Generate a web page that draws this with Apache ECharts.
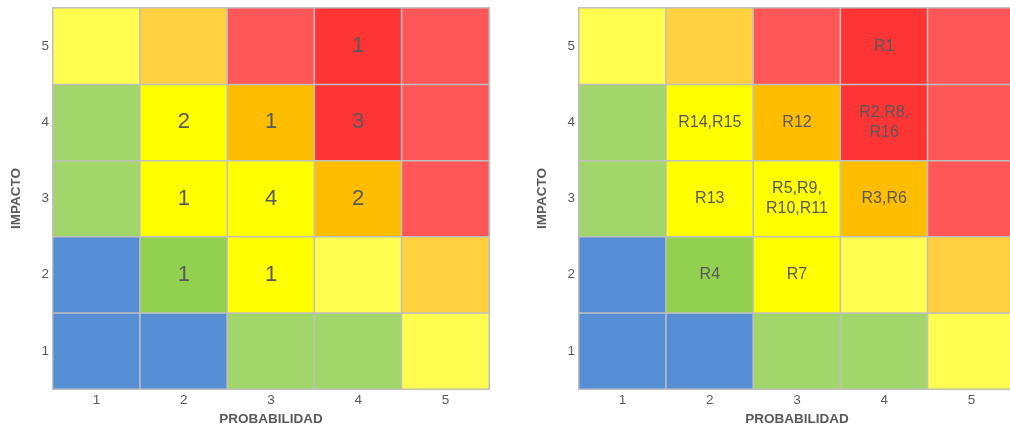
<!DOCTYPE html>
<html>
<head>
<meta charset="utf-8">
<script src="https://cdn.jsdelivr.net/npm/echarts@6/dist/echarts.min.js"></script>
<style>
html,body{margin:0;padding:0;background:#fff;}
#chart{width:1010px;height:429px;}
</style>
</head>
<body>
<div id="chart"></div>
<script>
// Axis categories
const probabilidad = ['1', '2', '3', '4', '5'];
const impacto = ['1', '2', '3', '4', '5'];

// Risk zone of each cell, rows from impact 1 (bottom) to impact 5 (top)
const zones = [
  ['bajo', 'bajo', 'tolerable', 'tolerable', 'moderadoBajo'],
  ['bajo', 'tolerableAlto', 'moderado', 'moderadoBajo', 'importanteBajo'],
  ['tolerable', 'moderado', 'moderado', 'importante', 'altoBajo'],
  ['tolerable', 'moderado', 'importante', 'alto', 'altoBajo'],
  ['moderadoBajo', 'importanteBajo', 'altoBajo', 'alto', 'altoBajo']
];

// Number of risks per cell [probabilidad, impacto, cantidad]
const conteo = [
  [4, 5, 1],
  [2, 4, 2], [3, 4, 1], [4, 4, 3],
  [2, 3, 1], [3, 3, 4], [4, 3, 2],
  [2, 2, 1], [3, 2, 1]
];

// Risk identifiers per cell [probabilidad, impacto, riesgos]
const riesgos = [
  [4, 5, 'R1'],
  [2, 4, 'R14,R15'], [3, 4, 'R12'], [4, 4, 'R2,R8,\nR16'],
  [2, 3, 'R13'], [3, 3, 'R5,R9,\nR10,R11'], [4, 3, 'R3,R6'],
  [2, 2, 'R4'], [3, 2, 'R7']
];

const zoneColors = {
  bajo: '#558ED5',
  tolerable: '#A3D66A',
  tolerableAlto: '#92D050',
  moderado: '#FFFF00',
  moderadoBajo: '#FFFD50',
  importanteBajo: '#FFD040',
  importante: '#FFBD00',
  altoBajo: '#FF5757',
  alto: '#FF3434'
};

// One heatmap item per cell; the cell text travels in the item name
function buildCells(labels) {
  const map = {};
  labels.forEach(function (d) { map[d[0] + '-' + d[1]] = String(d[2]); });
  const out = [];
  for (let r = 0; r < impacto.length; r++) {
    for (let c = 0; c < probabilidad.length; c++) {
      const lbl = map[(c + 1) + '-' + (r + 1)];
      out.push({
        name: lbl === undefined ? '' : lbl,
        value: [c, r, 1],
        itemStyle: { color: zoneColors[zones[r][c]] }
      });
    }
  }
  return out;
}

const textGray = '#595959';
const fontFam = 'Liberation Sans, Arial, sans-serif';

function xAxisCfg(gridIndex) {
  return {
    type: 'category', gridIndex: gridIndex, data: probabilidad,
    name: 'PROBABILIDAD', nameLocation: 'middle', nameGap: 21,
    nameTextStyle: { color: textGray, fontSize: 13.5, fontWeight: 'bold', fontFamily: fontFam },
    axisLine: { show: true, lineStyle: { color: '#BFBFBF', width: 1.5 } },
    axisTick: { show: false },
    axisLabel: { color: textGray, fontSize: 13.5, margin: 4, fontFamily: fontFam },
    splitArea: { show: false }
  };
}
function yAxisCfg(gridIndex) {
  return {
    type: 'category', gridIndex: gridIndex, data: impacto,
    name: 'IMPACTO', nameLocation: 'middle', nameGap: 30, nameRotate: 90,
    nameTextStyle: { color: textGray, fontSize: 13.5, fontWeight: 'bold', fontFamily: fontFam },
    axisLine: { show: true, lineStyle: { color: '#BFBFBF', width: 1.5 } },
    axisTick: { show: false },
    axisLabel: { color: textGray, fontSize: 13.5, margin: 4, fontFamily: fontFam },
    splitArea: { show: false }
  };
}

function labelFormatter(p) { return p.name; }

const chart = echarts.init(document.getElementById('chart'), null, { renderer: 'canvas' });
chart.setOption({
  animation: false,
  backgroundColor: '#ffffff',
  grid: [
    { left: 53, top: 8, width: 436, height: 381, outerBoundsMode: 'none', containLabel: false },
    { left: 579, top: 8, width: 436, height: 381, outerBoundsMode: 'none', containLabel: false }
  ],
  xAxis: [xAxisCfg(0), xAxisCfg(1)],
  yAxis: [yAxisCfg(0), yAxisCfg(1)],
  series: [
    {
      type: 'heatmap', xAxisIndex: 0, yAxisIndex: 0,
      data: buildCells(conteo),
      itemStyle: { borderColor: '#BFBFBF', borderWidth: 1.5 },
      label: { show: true, color: textGray, fontSize: 22, fontFamily: fontFam, formatter: labelFormatter },
      emphasis: { disabled: true }
    },
    {
      type: 'heatmap', xAxisIndex: 1, yAxisIndex: 1,
      data: buildCells(riesgos),
      itemStyle: { borderColor: '#BFBFBF', borderWidth: 1.5 },
      label: { show: true, color: textGray, fontSize: 16, lineHeight: 20, fontFamily: fontFam, formatter: labelFormatter },
      emphasis: { disabled: true }
    }
  ]
});
</script>
</body>
</html>
